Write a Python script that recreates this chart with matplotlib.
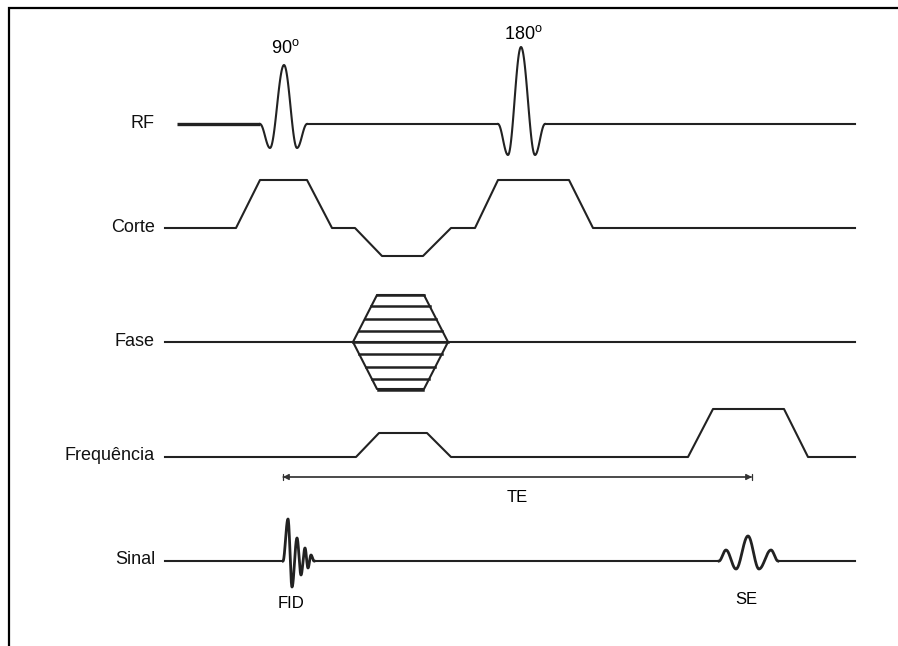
import numpy as np
import matplotlib
matplotlib.use("Agg")
import matplotlib.pyplot as plt

plt.rcParams['font.family'] = ['Liberation Sans', 'DejaVu Sans']
plt.rcParams['mathtext.fontset'] = 'custom'
plt.rcParams['mathtext.rm'] = 'Liberation Sans'

# ---------------- data (in pixel units) ----------------
channel_names = ["RF", "Corte", "Fase", "Frequência", "Sinal"]
channel_baseline = [124, 228, 342, 457, 561]
line_start = [177, 165, 165, 165, 165]
line_end = 855

# RF: sinc-like pulses, extrema positions and amplitudes (px, up = positive)
pulse90_x = [260, 270, 284, 297, 307]
pulse90_amp = [0, -24, 59, -24, 0]
pulse180_x = [498, 508, 521, 535, 545]
pulse180_amp = [0, -31, 77, -31, 0]
pulse_labels = ["90$^\\mathregular{o}$", "180$^\\mathregular{o}$"]

# Slice-select gradient (Corte)
corte_x = [165, 236, 260, 307, 332, 355, 382, 423, 451, 475, 498, 569, 593, 855]
corte_amp = [0, 0, 48, 48, 0, 0, -28, -28, 0, 0, 48, 48, 0, 0]

# Phase-encoding table (Fase): hexagon outline and step amplitudes
fase_hex_x = [353, 377, 424, 448]
fase_hex_amp = 47
fase_steps = [47, 36, 23, 11, 0, -12, -25, -37, -48]

# Frequency-encoding gradient (Frequência)
freq_x = [165, 356, 379, 427, 451, 688, 713, 784, 808, 855]
freq_amp = [0, 0, 24, 24, 0, 0, 48, 48, 0, 0]

# Signal: FID and spin echo extrema
fid_x = [283, 288, 292, 297, 301, 305, 308, 311, 314]
fid_amp = [0, 42, -26, 23, -14, 13, -7, 6, 0]
se_x = [719, 726, 736, 748, 759, 771, 778]
se_amp = [0, 11, -8, 25, -8, 11, 0]

te_range = [283, 752]
te_y = 477

# ---------------- drawing ----------------
LC = '#222222'
LW = 1.5


def smooth(xs, amps, n=30):
    """Draw smooth half-cosine arcs between successive extrema."""
    X, Y = [], []
    for i in range(len(xs) - 1):
        t = np.linspace(0, 1, n)
        X.extend(xs[i] + (xs[i + 1] - xs[i]) * t)
        Y.extend(amps[i] + (amps[i + 1] - amps[i]) * (1 - np.cos(np.pi * t)) / 2)
    return np.array(X), np.array(Y)


fig = plt.figure(figsize=(8.98, 6.46), dpi=100)
ax = fig.add_axes([0, 0, 1, 1])
ax.set_xlim(0, 898)
ax.set_ylim(646, 0)
ax.axis('off')

# frame
ax.plot([9, 9, 910], [660, 8, 8], color='black', lw=1.6, solid_joinstyle='miter')

# labels
for name, yb in zip(channel_names, channel_baseline):
    ax.text(155, yb - 1, name, ha='right', va='center',
            fontsize=13, color='#111111')

# RF
b = channel_baseline[0]
ax.plot([line_start[0], pulse90_x[0]], [b, b], color=LC, lw=2.4, solid_capstyle='butt')
px, py = smooth(pulse90_x, pulse90_amp)
ax.plot(px, b - py, color=LC, lw=LW)
ax.plot([pulse90_x[-1], pulse180_x[0]], [b, b], color=LC, lw=LW)
px, py = smooth(pulse180_x, pulse180_amp)
ax.plot(px, b - py, color=LC, lw=LW)
ax.plot([pulse180_x[-1], line_end], [b, b], color=LC, lw=LW)
ax.text(pulse90_x[2] + 1, 48, pulse_labels[0], ha='center', va='center', fontsize=13)
ax.text(pulse180_x[2] + 2, 34, pulse_labels[1], ha='center', va='center', fontsize=13)

# Corte
b = channel_baseline[1]
ax.plot(corte_x, [b - a for a in corte_amp], color=LC, lw=LW)

# Fase
b = channel_baseline[2]
ax.plot([line_start[2], line_end], [b, b], color=LC, lw=LW)
hx = [fase_hex_x[0], fase_hex_x[1], fase_hex_x[2], fase_hex_x[3], fase_hex_x[2], fase_hex_x[1], fase_hex_x[0]]
hy = [b, b - fase_hex_amp, b - fase_hex_amp, b, b + fase_hex_amp, b + fase_hex_amp, b]
ax.plot(hx, hy, color=LC, lw=LW)
slope = (fase_hex_x[1] - fase_hex_x[0]) / fase_hex_amp
for s in fase_steps:
    off = abs(s) * slope
    ax.plot([fase_hex_x[0] + off, fase_hex_x[3] - off], [b - s, b - s], color=LC, lw=1.8)

# Frequência
b = channel_baseline[3]
ax.plot(freq_x, [b - a for a in freq_amp], color=LC, lw=LW)

# TE arrow
ax.annotate('', xy=(te_range[0], te_y), xytext=(te_range[1], te_y),
            arrowprops=dict(arrowstyle='<|-|>,head_length=0.35,head_width=0.18',
                            color='#333333', lw=0.9, shrinkA=0, shrinkB=0))
ax.annotate('', xy=(te_range[0], te_y), xytext=(te_range[1], te_y),
            arrowprops=dict(arrowstyle='|-|,widthA=0.25,widthB=0.25',
                            color='#333333', lw=0.9, shrinkA=0, shrinkB=0))
ax.text(sum(te_range) / 2, te_y + 20, "TE", ha='center', va='center', fontsize=12)

# Sinal
b = channel_baseline[4]
ax.plot([line_start[4], fid_x[0]], [b, b], color=LC, lw=LW)
sx, sy = smooth(fid_x, fid_amp)
ax.plot(sx, b - sy, color=LC, lw=2.0)
ax.plot([fid_x[-1], se_x[0]], [b, b], color=LC, lw=LW)
sx, sy = smooth(se_x, se_amp)
ax.plot(sx, b - sy, color=LC, lw=2.0)
ax.plot([se_x[-1], line_end], [b, b], color=LC, lw=LW)
ax.text(291, 604, "FID", ha='center', va='center', fontsize=12)
ax.text(746, 600, "SE", ha='center', va='center', fontsize=12)

fig.savefig("out.png", dpi=100)
